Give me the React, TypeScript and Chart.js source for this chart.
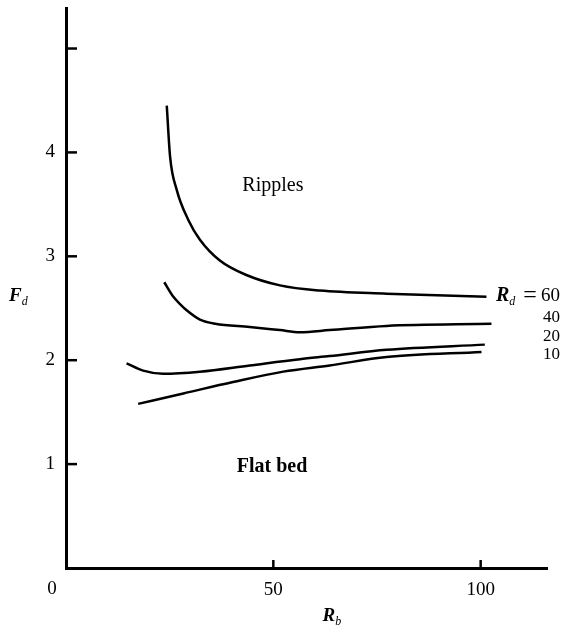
import React, { useEffect, useRef } from 'react';
import { Chart, registerables } from 'chart.js';

Chart.register(...registerables);

const SERIF = '"Liberation Serif", "Times New Roman", serif';

// Axis ticks
const xTicks = [0, 50, 100];
const yTicks = [1, 2, 3, 4, 5];
const yLabelled = [1, 2, 3, 4];

// Curves (R_b, F_d) for each R_d
const r60X = [24.3, 25.1, 26.7, 29.5, 32.3, 37.1, 43.5, 51.6, 61.2, 77.3, 101.4];
const r60Y = [4.45, 3.96, 3.64, 3.35, 3.16, 2.96, 2.82, 2.72, 2.67, 2.64, 2.61];

const r40X = [23.7, 25.9, 27.5, 29.1, 32.3, 36.0, 44.3, 51.6, 56.4, 63.6, 77.3, 102.6];
const r40Y = [2.75, 2.61, 2.54, 2.48, 2.39, 2.35, 2.32, 2.29, 2.27, 2.29, 2.33, 2.35];

const r20X = [14.6, 18.6, 23.4, 32.3, 44.3, 56.4, 63.6, 77.3, 101.0];
const r20Y = [1.97, 1.9, 1.87, 1.89, 1.95, 2.01, 2.04, 2.1, 2.15];

const r10X = [17.4, 28.3, 40.3, 52.4, 63.6, 77.3, 100.2];
const r10Y = [1.58, 1.68, 1.79, 1.89, 1.95, 2.03, 2.08];

const curveLabels = ['60', '40', '20', '10'];

const toPts = (xs: number[], ys: number[]) => xs.map((x, i) => ({ x, y: ys[i] }));

function drawSub(
  ctx: CanvasRenderingContext2D,
  main: string,
  sub: string,
  x: number,
  y: number,
  size: number,
  align: 'left' | 'center'
) {
  ctx.save();
  ctx.textBaseline = 'middle';
  ctx.textAlign = 'left';
  const mainFont = `italic bold ${size}px ${SERIF}`;
  const subFont = `italic ${Math.round(size * 0.62)}px ${SERIF}`;
  ctx.font = mainFont;
  const wMain = ctx.measureText(main).width;
  ctx.font = subFont;
  const wSub = ctx.measureText(sub).width;
  const total = wMain + wSub;
  const x0 = align === 'center' ? x - total / 2 : x;
  ctx.font = mainFont;
  ctx.fillText(main, x0, y);
  ctx.font = subFont;
  ctx.fillText(sub, x0 + wMain, y + size * 0.3);
  ctx.restore();
  return total;
}

const overlay = {
  id: 'overlay',
  afterDraw(chart: any) {
    const ctx: CanvasRenderingContext2D = chart.ctx;
    const xs = chart.scales.x;
    const ys = chart.scales.y;
    const area = chart.chartArea;
    ctx.save();
    ctx.strokeStyle = '#000';
    ctx.fillStyle = '#000';
    ctx.lineWidth = 2.5;
    // inward tick marks
    yTicks.forEach((v) => {
      const py = ys.getPixelForValue(v);
      ctx.beginPath();
      ctx.moveTo(area.left, py);
      ctx.lineTo(area.left + 11, py);
      ctx.stroke();
    });
    xTicks.forEach((v) => {
      if (v === 0) return;
      const px = xs.getPixelForValue(v);
      ctx.beginPath();
      ctx.moveTo(px, area.bottom);
      ctx.lineTo(px, area.bottom - 8);
      ctx.stroke();
    });
    // origin label
    ctx.font = `19px ${SERIF}`;
    ctx.textAlign = 'center';
    ctx.textBaseline = 'middle';
    ctx.fillText(String(xTicks[0]), xs.getPixelForValue(0) - 14, area.bottom + 21);

    // region labels
    ctx.font = `20px ${SERIF}`;
    ctx.fillText('Ripples', xs.getPixelForValue(49.9), ys.getPixelForValue(3.68));
    ctx.font = `bold 20px ${SERIF}`;
    ctx.fillText('Flat bed', xs.getPixelForValue(49.7), ys.getPixelForValue(0.97));

    // curve labels
    const rightX = 560;
    ctx.textAlign = 'right';
    const yPos = [296, 318, 337, 355];
    ctx.font = `19px ${SERIF}`;
    ctx.fillText(curveLabels[0], rightX, yPos[0]);
    ctx.textAlign = 'center';
    ctx.font = `24px ${SERIF}`;
    ctx.fillText('=', 530, yPos[0]);
    drawSub(ctx, 'R', 'd', 496, yPos[0], 20, 'left');
    ctx.textAlign = 'right';
    ctx.font = `17px ${SERIF}`;
    for (let i = 1; i < curveLabels.length; i++) {
      ctx.fillText(curveLabels[i], rightX, yPos[i]);
    }

    // axis titles
    drawSub(ctx, 'F', 'd', 9, ys.getPixelForValue(2.62), 19, 'left');
    drawSub(ctx, 'R', 'b', xs.getPixelForValue(64.1), area.bottom + 48, 19, 'center');
    ctx.restore();
  },
};

export default function App() {
  const ref = useRef<HTMLCanvasElement | null>(null);
  useEffect(() => {
    if (!ref.current) return;
    Chart.defaults.font.family = SERIF;
    Chart.defaults.color = '#000';
    const lineStyle = {
      showLine: true,
      pointRadius: 0,
      borderColor: '#000',
      backgroundColor: '#000',
      borderWidth: 2.5,
      cubicInterpolationMode: 'monotone' as const,
      fill: false,
    };
    const chart = new Chart(ref.current, {
      type: 'scatter',
      data: {
        datasets: [
          { label: 'R_d = 60', data: toPts(r60X, r60Y), ...lineStyle },
          { label: 'R_d = 40', data: toPts(r40X, r40Y), ...lineStyle },
          { label: 'R_d = 20', data: toPts(r20X, r20Y), ...lineStyle },
          { label: 'R_d = 10', data: toPts(r10X, r10Y), ...lineStyle },
        ],
      },
      options: {
        animation: false,
        responsive: false,
        maintainAspectRatio: false,
        layout: { padding: { top: 8, right: 17, left: 0, bottom: 0 } },
        plugins: { legend: { display: false }, tooltip: { enabled: false } },
        scales: {
          x: {
            type: 'linear',
            min: 0,
            max: 116,
            afterBuildTicks: (scale: any) => {
              scale.ticks = xTicks.map((v) => ({ value: v }));
            },
            afterFit: (scale: any) => {
              scale.height = 57;
              scale.paddingLeft = 0;
              scale.paddingRight = 0;
            },
            grid: { display: false, drawTicks: false },
            border: { display: true, color: '#000', width: 3 },
            ticks: {
              font: { size: 19, family: SERIF },
              color: '#000',
              padding: 11,
              maxRotation: 0,
              callback: (v: any) => (v === 0 ? '' : String(v)),
            },
          },
          y: {
            type: 'linear',
            min: 0,
            max: 5.39,
            afterBuildTicks: (scale: any) => {
              scale.ticks = yTicks.map((v) => ({ value: v }));
            },
            afterFit: (scale: any) => {
              scale.width = 66;
              scale.paddingTop = 0;
              scale.paddingBottom = 0;
            },
            grid: { display: false, drawTicks: false },
            border: { display: true, color: '#000', width: 3 },
            ticks: {
              font: { size: 19, family: SERIF },
              color: '#000',
              padding: 11,
              callback: (v: any) => (yLabelled.includes(v) ? String(v) : ''),
            },
          },
        },
      },
      plugins: [overlay],
    });
    return () => chart.destroy();
  }, []);
  return (
    <div style={{ position: 'fixed', left: 0, top: 0, width: 564, height: 625, background: '#fff' }}>
      <canvas ref={ref} width={564} height={625} style={{ display: 'block' }} />
    </div>
  );
}
